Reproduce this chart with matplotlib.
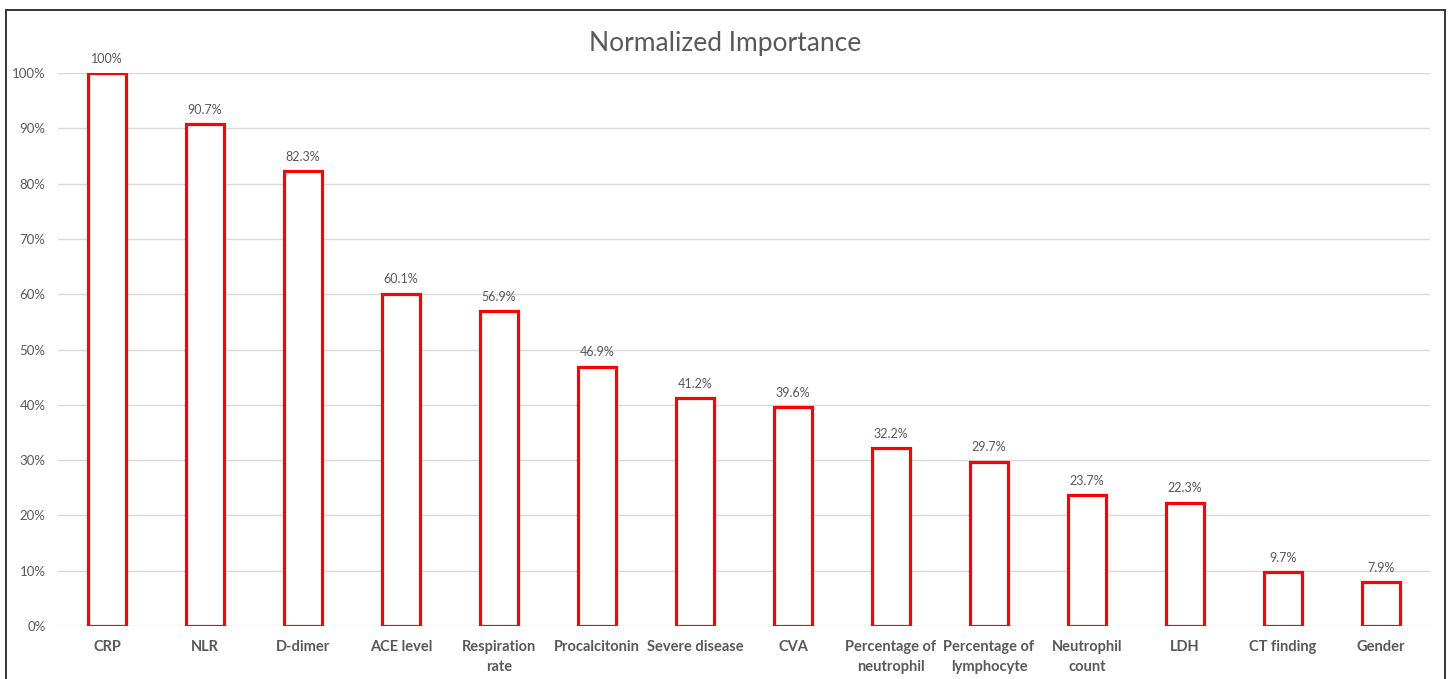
import matplotlib
matplotlib.use("Agg")
import matplotlib.pyplot as plt
from matplotlib.patches import Rectangle
from matplotlib.ticker import FuncFormatter

plt.rcParams['font.family'] = ['Lato', 'DejaVu Sans']

categories = ["CRP", "NLR", "D-dimer", "ACE level", "Respiration\nrate", "Procalcitonin",
              "Severe disease", "CVA", "Percentage of\nneutrophil", "Percentage of\nlymphocyte",
              "Neutrophil\ncount", "LDH", "CT finding", "Gender"]
values = [100, 90.7, 82.3, 60.1, 56.9, 46.9, 41.2, 39.6, 32.2, 29.7, 23.7, 22.3, 9.7, 7.9]
value_labels = ["100%", "90.7%", "82.3%", "60.1%", "56.9%", "46.9%", "41.2%", "39.6%",
                "32.2%", "29.7%", "23.7%", "22.3%", "9.7%", "7.9%"]
yticks = [0, 10, 20, 30, 40, 50, 60, 70, 80, 90, 100]

W, H = 1449, 679
fig = plt.figure(figsize=(W / 100, H / 100), dpi=100)
ax = fig.add_axes([58 / W, 1 - 626 / H, (1430 - 58) / W, (626 - 73) / H])

text_gray = "#595959"
x = list(range(len(categories)))
ax.bar(x, values, width=0.38, facecolor="white", edgecolor="#ff0000", linewidth=2.3, zorder=3)

for xi, v, lab in zip(x, values, value_labels):
    ax.annotate(lab, (xi, v), xytext=(0, 6), textcoords="offset points",
                ha="center", va="bottom", fontsize=9, color=text_gray)

ax.set_xlim(-0.5, len(categories) - 0.5)
ax.set_ylim(0, 100)
ax.set_yticks(yticks)
ax.yaxis.set_major_formatter(FuncFormatter(lambda v, p: f"{int(v)}%"))
ax.grid(axis="y", color="#d9d9d9", linewidth=1.0, zorder=0)
ax.set_axisbelow(True)
for s in ax.spines.values():
    s.set_visible(False)
ax.tick_params(axis="both", length=0)
ax.tick_params(axis="y", pad=9, labelsize=9.5, labelcolor=text_gray)
ax.set_xticks(x)
ax.set_xticklabels(categories, fontsize=10.5, fontweight="bold", color=text_gray,
                   linespacing=1.6)
ax.tick_params(axis="x", pad=10)

fig.text(725 / W, 1 - 43 / H, "Normalized Importance", ha="center", va="center",
         fontsize=19, color=text_gray)

fig.patches.append(Rectangle((6 / W, -0.05), (1445 - 6) / W, 1.05 - 10 / H,
                             transform=fig.transFigure, fill=False,
                             edgecolor="#262626", linewidth=1.3))

fig.savefig("out.png", dpi=100)
